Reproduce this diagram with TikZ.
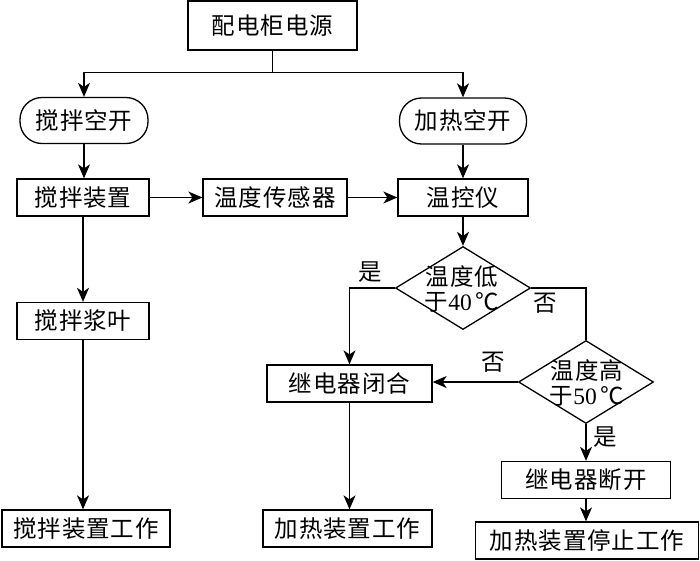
\documentclass[tikz,border=0pt]{standalone}
\usepackage{fontspec}
\setmainfont{Liberation Serif}
\newfontfamily\cjk[LetterSpace=4]{Noto Sans CJK SC}
\usetikzlibrary{arrows.meta,shapes.geometric}
\begin{document}
\begin{tikzpicture}[x=1pt,y=-1pt,
  base/.style={draw, line width=1.3pt, inner sep=0pt, font=\cjk\fontsize{23.5}{25}\selectfont},
  box/.style={base, rectangle, minimum height=37pt},
  pill/.style={base, rectangle, rounded corners=22pt, minimum height=46pt},
  dia/.style={draw, line width=1.3pt, diamond, inner sep=0pt, minimum width=135pt, minimum height=83pt},
  txt/.style={font=\fontsize{23.5}{25}\selectfont, inner sep=0pt, align=center},
  lbl/.style={font=\cjk\fontsize{23.5}{25}\selectfont, inner sep=0pt},
  arr/.style={line width=1.3pt, -{Stealth[length=14pt,width=12pt,inset=4pt]}},
  ln/.style={line width=1.3pt}]
\useasboundingbox (0,0) rectangle (700,560);
% nodes
\node[box, minimum width=169pt, minimum height=49pt] (src) at (272.5,25.5) {配电柜电源};
\node[pill, minimum width=128pt] (k1) at (84,120.5) {搅拌空开};
\node[pill, minimum width=127pt] (k2) at (463,121) {加热空开};
\node[box, minimum width=132pt] (mix) at (83,197.5) {搅拌装置};
\node[box, minimum width=144pt] (sensor) at (275,197.5) {温度传感器};
\node[box, minimum width=130pt] (ctrl) at (463,197.5) {温控仪};
\node[dia] (d1) at (463,288) {};
\node[txt] (t1) at (462,289) {{\cjk 温度低}\\{\cjk 于}40\,{\cjk ℃}};
\node[box, minimum width=132pt] (blade) at (83,321) {搅拌浆叶};
\node[box, minimum width=168pt] (mixwork) at (86,528.5) {搅拌装置工作};
\node[box, minimum width=165pt] (on) at (349.5,383.5) {继电器闭合};
\node[dia] (d2) at (586,382) {};
\node[txt] (t2) at (587,383) {{\cjk 温度高}\\{\cjk 于}50\,{\cjk ℃}};
\node[box, minimum width=169pt] (off) at (586,480) {继电器断开};
\node[box, minimum width=169pt] (heatwork) at (347.5,528.5) {加热装置工作};
\node[box, minimum width=223pt] (stop) at (587,540.5) {加热装置停止工作};
% labels
\node[lbl] (y1) at (370,272) {是};
\node[lbl] (n1) at (545,303) {否};
\node[lbl] (n2) at (493,362) {否};
\node[lbl] (y2) at (605,437) {是};
% connectors
\path (src.south) ++(0,22) coordinate (split);
\draw[ln] (src.south) -- (split);
\draw[arr] (split) -| (k1.north);
\draw[arr] (split) -| (k2.north);
\draw[arr] (k1.south) -- (k1.south |- mix.north);
\draw[arr] (mix) -- (sensor);
\draw[arr] (sensor) -- (ctrl);
\draw[arr] (k2.south) -- (k2.south |- ctrl.north);
\draw[arr] (ctrl.south) -- (ctrl.south |- d1.north);
\draw[arr] (mix.south) -- (mix.south |- blade.north);
\draw[arr] (blade.south) -- (blade.south |- mixwork.north);
\draw[arr] (d1.west) -| (on.north);
\draw[ln] (d1.east) -| (d2.north);
\draw[arr] (d2.west) -- (d2.west -| on.east);
\draw[arr] (d2.south) -- (d2.south |- off.north);
\draw[arr] (off.south) -- (off.south |- stop.north);
\draw[arr] (on.south) -- (on.south |- heatwork.north);
\end{tikzpicture}
\end{document}
